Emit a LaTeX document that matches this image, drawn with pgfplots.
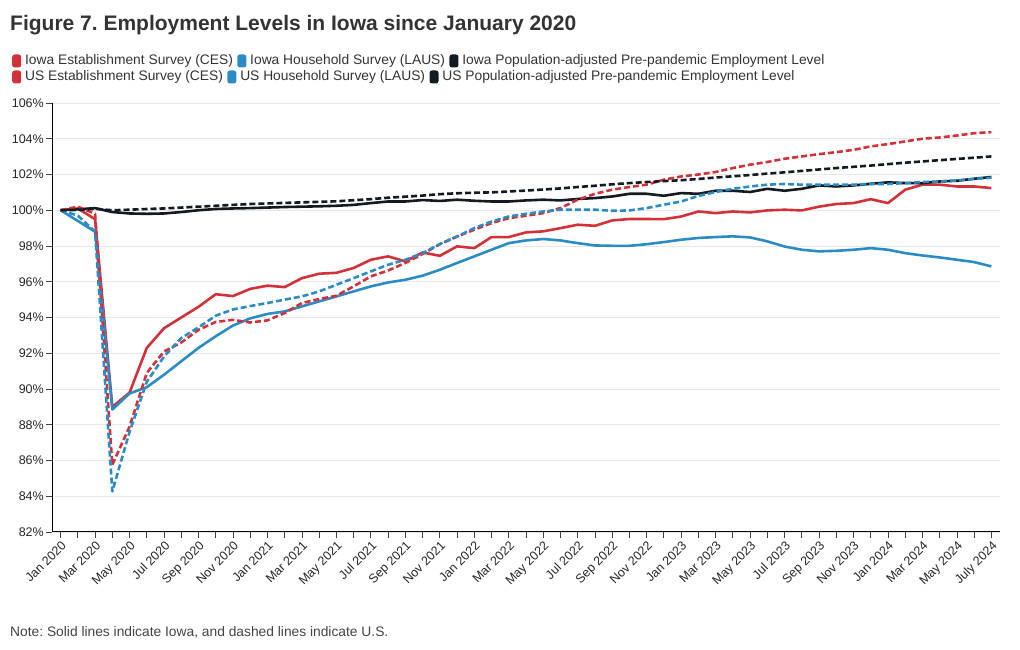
\documentclass[border=0pt]{standalone}
\usepackage{fontspec}
\setmainfont{Liberation Sans}
\usepackage{pgfplots}
\usepackage{pgfplotstable}
\pgfplotsset{compat=1.18}
\usetikzlibrary{positioning}
\definecolor{cred}{HTML}{D1323A}
\definecolor{cblue}{HTML}{2B8CC4}
\definecolor{cblack}{HTML}{131A22}
\definecolor{gridc}{HTML}{E8E8E8}
\definecolor{txt}{HTML}{333333}
\definecolor{notec}{HTML}{444444}

% m: month index (0 = Jan 2020); ic/il/ip = Iowa CES/LAUS/Pop-adj; uc/ul/up = US
\pgfplotstableread{
m ic il ip uc ul up
0 100.00 100.00 100.00 100.00 100.00 100.00
1 100.10 99.40 100.05 100.20 99.70 100.02
2 99.50 98.80 100.12 99.80 98.80 100.08
3 89.00 88.85 99.90 85.76 84.27 100.00
4 89.80 89.75 99.82 87.90 87.60 100.03
5 92.30 90.10 99.80 90.90 90.40 100.07
6 93.40 90.80 99.82 92.10 91.82 100.10
7 94.00 91.55 99.90 92.60 92.85 100.15
8 94.60 92.30 100.00 93.31 93.45 100.20
9 95.30 92.95 100.07 93.75 94.10 100.25
10 95.20 93.55 100.10 93.87 94.45 100.30
11 95.60 93.95 100.12 93.72 94.64 100.35
12 95.78 94.20 100.15 93.84 94.81 100.38
13 95.70 94.34 100.18 94.25 95.00 100.41
14 96.20 94.62 100.20 94.81 95.18 100.44
15 96.45 94.90 100.22 95.03 95.46 100.47
16 96.50 95.18 100.25 95.22 95.83 100.50
17 96.77 95.46 100.30 95.74 96.20 100.56
18 97.23 95.74 100.40 96.30 96.58 100.62
19 97.42 95.96 100.49 96.63 96.95 100.70
20 97.14 96.11 100.49 97.05 97.23 100.76
21 97.64 96.34 100.57 97.55 97.60 100.82
22 97.45 96.67 100.52 98.10 98.11 100.90
23 97.98 97.05 100.59 98.53 98.53 100.95
24 97.88 97.42 100.53 98.91 99.00 100.98
25 98.50 97.79 100.49 99.28 99.37 101.00
26 98.50 98.16 100.49 99.56 99.65 101.05
27 98.76 98.31 100.55 99.69 99.80 101.10
28 98.82 98.39 100.59 99.84 99.93 101.16
29 99.00 98.31 100.55 100.12 100.03 101.22
30 99.19 98.16 100.63 100.59 100.03 101.30
31 99.13 98.03 100.68 100.92 100.03 101.37
32 99.43 98.01 100.77 101.15 99.97 101.45
33 99.51 98.01 100.92 101.30 99.99 101.52
34 99.51 98.10 100.92 101.43 100.12 101.58
35 99.50 98.22 100.81 101.71 100.31 101.63
36 99.65 98.35 100.96 101.89 100.49 101.68
37 99.93 98.45 100.92 102.00 100.80 101.75
38 99.84 98.50 101.09 102.14 101.02 101.83
39 99.93 98.54 101.09 102.36 101.20 101.90
40 99.88 98.48 101.02 102.55 101.33 101.97
41 99.99 98.26 101.20 102.70 101.43 102.05
42 100.03 97.97 101.09 102.88 101.47 102.12
43 99.99 97.79 101.20 103.01 101.43 102.20
44 100.20 97.70 101.39 103.14 101.43 102.28
45 100.35 97.73 101.33 103.25 101.43 102.36
46 100.40 97.79 101.39 103.38 101.43 102.43
47 100.62 97.88 101.48 103.57 101.47 102.50
48 100.40 97.79 101.56 103.70 101.47 102.58
49 101.15 97.60 101.52 103.85 101.52 102.66
50 101.43 97.47 101.52 104.00 101.58 102.73
51 101.43 97.36 101.61 104.07 101.61 102.80
52 101.33 97.23 101.65 104.18 101.67 102.87
53 101.33 97.10 101.76 104.31 101.75 102.94
54 101.24 96.86 101.86 104.37 101.82 103.01
}\datatable

\begin{document}
\frenchspacing
\begin{tikzpicture}[
  mk/.style={fill=#1, rounded corners=2.5pt, minimum width=9pt, minimum height=13pt, inner sep=0pt, anchor=west},
  lt/.style={inner sep=0pt, text=txt, font=\fontsize{13.8}{15}\selectfont, anchor=west}
]
\path[use as bounding box] (0,0) rectangle (1020pt,650pt);

\node[anchor=base west, inner sep=0pt, text=txt, font=\bfseries\fontsize{21}{24}\selectfont] at (10pt,619pt) {Figure 7. Employment Levels in Iowa since January 2020};

% legend row 1
\node[mk=cred] (a1) at (12pt,589pt) {};
\node[lt, right=3.5pt of a1] (b1) {Iowa Establishment Survey (CES)};
\node[mk=cblue, right=4pt of b1] (a2) {};
\node[lt, right=3.5pt of a2] (b2) {Iowa Household Survey (LAUS)};
\node[mk=cblack, right=4pt of b2] (a3) {};
\node[lt, right=3.5pt of a3] (b3) {Iowa Population-adjusted Pre-pandemic Employment Level};
% legend row 2
\node[mk=cred] (c1) at (12pt,573pt) {};
\node[lt, right=3.5pt of c1] (d1) {US Establishment Survey (CES)};
\node[mk=cblue, right=4pt of d1] (c2) {};
\node[lt, right=3.5pt of c2] (d2) {US Household Survey (LAUS)};
\node[mk=cblack, right=4pt of d2] (c3) {};
\node[lt, right=3.5pt of c3] (d3) {US Population-adjusted Pre-pandemic Employment Level};

\begin{axis}[
  at={(52pt,118pt)}, anchor=south west,
  scale only axis, width=948pt, height=429pt,
  xmin=-0.5, xmax=54.5, ymin=82, ymax=106,
  axis x line*=bottom, axis y line*=left,
  axis line style={black, line width=1pt},
  xtick={0,2,...,54},
  xticklabels={Jan 2020,Mar 2020,May 2020,Jul 2020,Sep 2020,Nov 2020,Jan 2021,Mar 2021,May 2021,Jul 2021,Sep 2021,Nov 2021,Jan 2022,Mar 2022,May 2022,Jul 2022,Sep 2022,Nov 2022,Jan 2023,Mar 2023,May 2023,Jul 2023,Sep 2023,Nov 2023,Jan 2024,Mar 2024,May 2024,July 2024},
  minor xtick={1,3,...,53},
  ytick={82,84,...,106},
  yticklabel={\pgfmathprintnumber{\tick}\%},
  tick align=outside,
  major tick length=6pt, minor tick length=6pt,
  every tick/.style={black!75, line width=0.8pt},
  ymajorgrids, grid style={gridc, line width=0.7pt},
  /pgf/number format/assume math mode=true,
  xticklabel style={rotate=45, anchor=north east, inner sep=1.5pt, text=black!85, font=\fontsize{12.5}{12.5}\selectfont},
  yticklabel style={inner sep=2pt, text=black!85, font=\fontsize{12.5}{12.5}\selectfont},
  every axis plot/.append style={line width=2.6pt, line join=round, no markers},
]
\addplot[cred] table[x=m, y=ic] {\datatable};
\addplot[cblue] table[x=m, y=il] {\datatable};
\addplot[cblack] table[x=m, y=ip] {\datatable};
\addplot[cred, dash pattern=on 6pt off 3pt] table[x=m, y=uc] {\datatable};
\addplot[cblue, dash pattern=on 6pt off 3pt] table[x=m, y=ul] {\datatable};
\addplot[cblack, dash pattern=on 6pt off 3pt] table[x=m, y=up] {\datatable};
\end{axis}

\node[anchor=base west, inner sep=0pt, text=notec, font=\fontsize{13.8}{15}\selectfont] at (10pt,13pt) {Note: Solid lines indicate Iowa, and dashed lines indicate U.S.};
\end{tikzpicture}
\end{document}
